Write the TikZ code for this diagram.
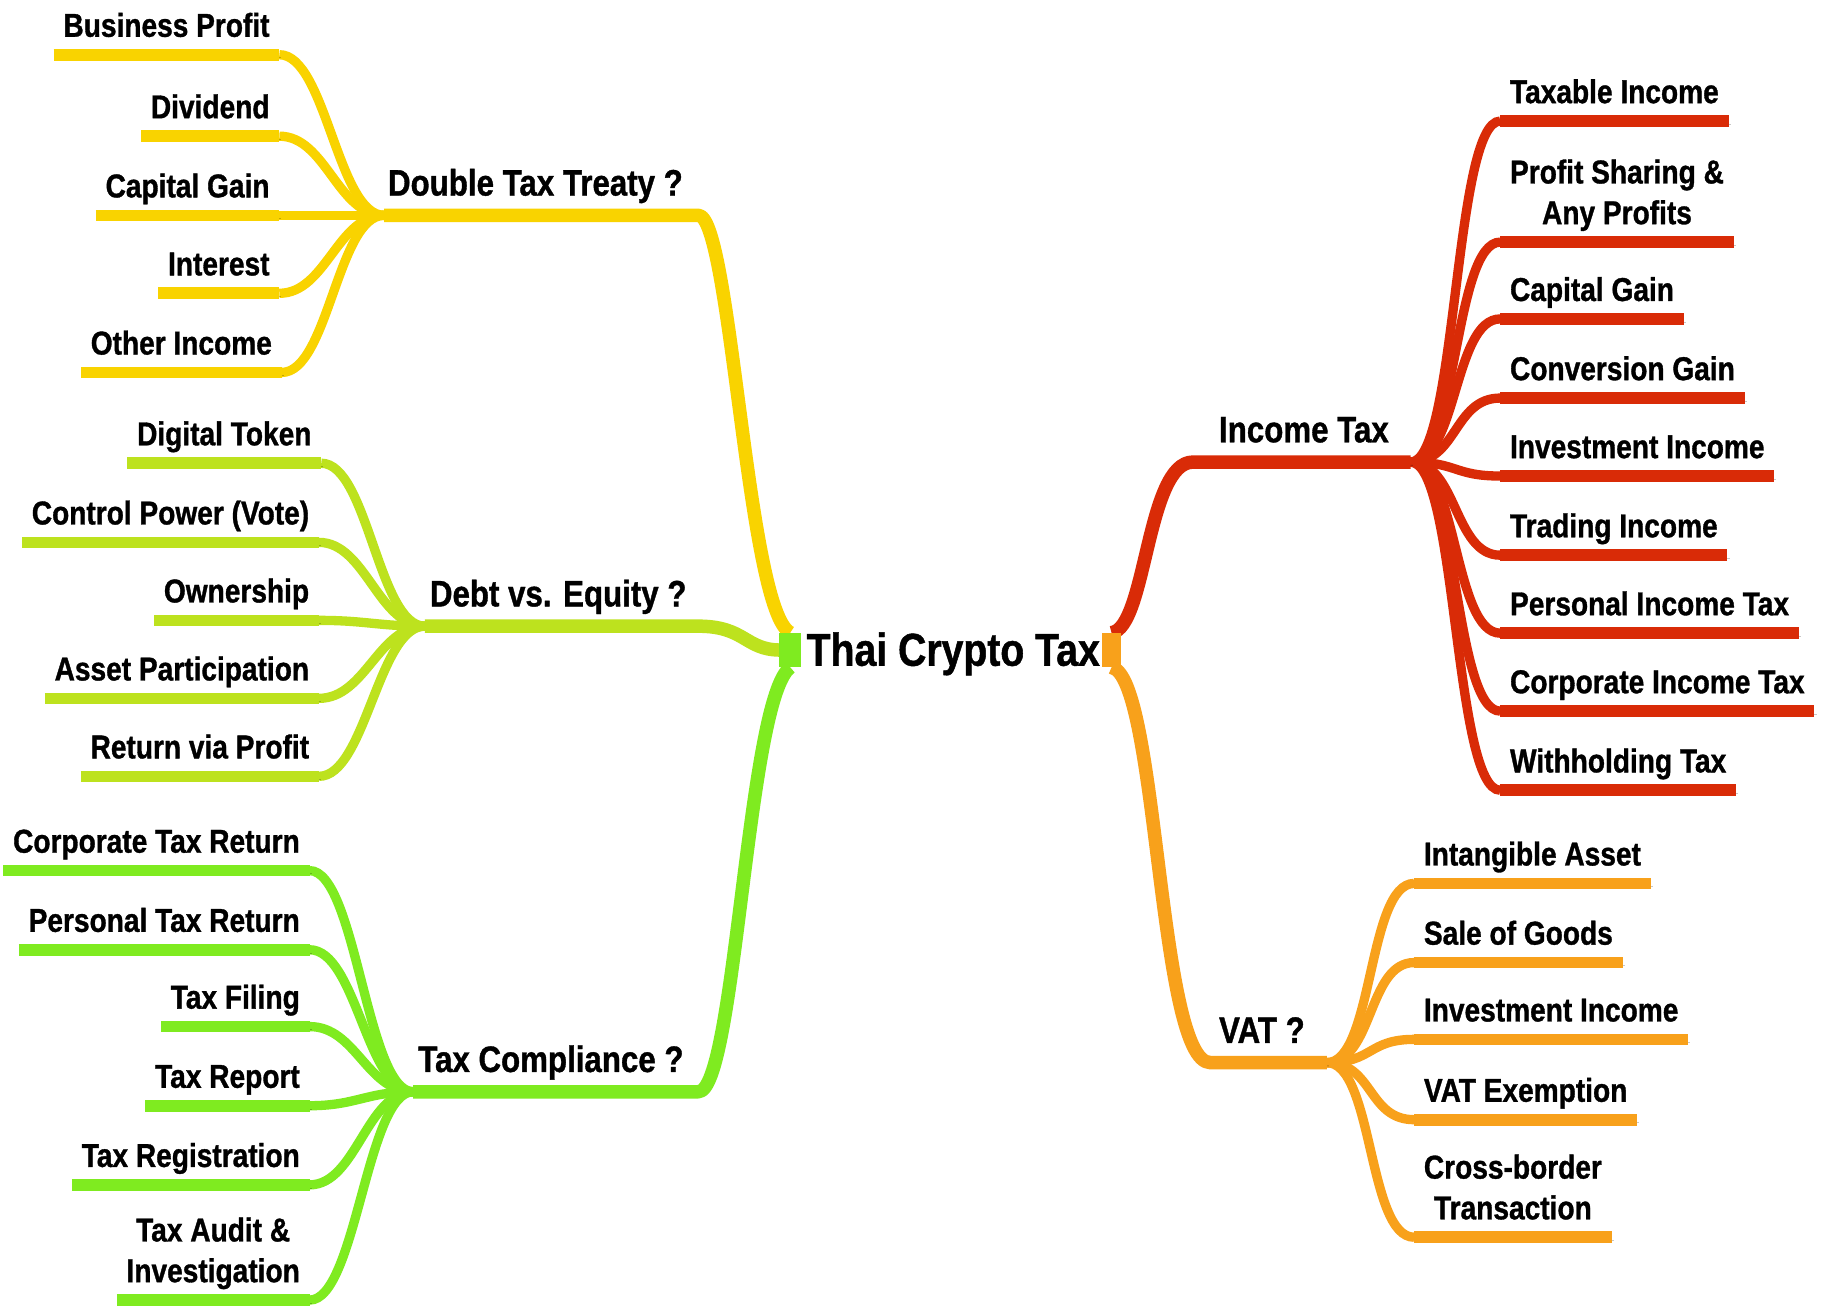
\documentclass[tikz,border=0pt]{standalone}
\usepackage{fontspec}
\newfontfamily\mmfont{Liberation Sans}[FakeStretch=0.85,FakeBold=1]
\usetikzlibrary{calc}
\definecolor{cYel}{HTML}{F9D300}
\definecolor{cLim}{HTML}{BDE21E}
\definecolor{cGrn}{HTML}{7FEB20}
\definecolor{cRed}{HTML}{D92B07}
\definecolor{cOra}{HTML}{F8A11B}
\newcommand\leaffont{\mmfont\bfseries\fontsize{14.2}{17.5}\selectfont}
\newcommand\branchfont{\mmfont\bfseries\fontsize{15.8}{19}\selectfont}
\newcommand\titlefont{\mmfont\bfseries\fontsize{19.8}{24}\selectfont}
\tikzset{
  shd/.style={preaction={draw=black,draw opacity=0.22,transform canvas={xshift=0.9pt,yshift=-1.4pt}}},
  leafline/.style={line width=5pt, draw=#1, shd},
  leafcurve/.style={line width=4pt, draw=#1, shd},
  trunk/.style={line width=5.8pt, draw=#1, shd, line join=round},
  lfL/.style={font=\leaffont, anchor=south east, inner xsep=4pt, inner ysep=0pt, text depth=0pt, align=center},
  lfR/.style={font=\leaffont, anchor=south west, inner xsep=4pt, inner ysep=0pt, text depth=0pt, align=center},
  brn/.style={font=\branchfont, anchor=base west, inner sep=0pt},
}
\newcommand\mmL[6]{%
  \node[lfL] (#1) at (#3,#4-15) {#2};
  \draw[leafcurve=#6] ([yshift=-7.5pt]#1.south east) .. controls +(40,0) and +(-40,0) .. (#5);
  \draw[leafline=#6] ([yshift=-7.5pt]#1.south west) -- ([yshift=-7.5pt]#1.south east);
}
\newcommand\mmR[6]{%
  \node[lfR] (#1) at (#3,#4-15) {#2};
  \draw[leafcurve=#6] (#5) .. controls +(40,0) and +(-40,0) .. ([yshift=-7.5pt]#1.south west);
  \draw[leafline=#6] ([yshift=-7.5pt]#1.south west) -- ([yshift=-7.5pt]#1.south east);
}
\begin{document}
\begin{tikzpicture}[x=0.5pt,y=-0.5pt]
\fill[white] (0,0) rectangle (1568,1123);
\useasboundingbox (0,0) rectangle (1568,1123);
% hubs and corners
\coordinate (hY) at (330,185);  \coordinate (cY) at (600,185);
\coordinate (hL) at (365,538);  \coordinate (cL) at (600,538);
\coordinate (hG) at (355,938);  \coordinate (cG) at (600,938);
\coordinate (hR) at (1212,397); \coordinate (cR) at (1025,397);
\coordinate (hO) at (1140,913); \coordinate (cO) at (1040,913);
% centre blocks
\node[fill=cGrn, minimum width=9pt, minimum height=14.5pt, inner sep=0pt] (bL) at (679,558.5) {};
\node[fill=cOra, minimum width=7.5pt, minimum height=14.5pt, inner sep=0pt] (bR) at (955,558.5) {};
% Double Tax Treaty leaves
\mmL{bp}{Business Profit}{240}{47}{hY}{cYel}
\mmL{dv}{Dividend}{240}{117}{hY}{cYel}
\mmL{cgL}{Capital Gain}{240}{185}{hY}{cYel}
\mmL{in}{Interest}{240}{252}{hY}{cYel}
\mmL{oi}{Other Income}{242}{320}{hY}{cYel}
% Debt vs Equity leaves
\mmL{dt}{Digital Token}{276}{398}{hL}{cLim}
\mmL{cp}{Control Power (Vote)}{274}{466}{hL}{cLim}
\mmL{ow}{Ownership}{274}{533}{hL}{cLim}
\mmL{ap}{Asset Participation}{274}{600}{hL}{cLim}
\mmL{rp}{Return via Profit}{274}{667}{hL}{cLim}
% Tax Compliance leaves
\mmL{ctr}{Corporate Tax Return}{266}{748}{hG}{cGrn}
\mmL{ptr}{Personal Tax Return}{266}{816}{hG}{cGrn}
\mmL{tf}{Tax Filing}{266}{882}{hG}{cGrn}
\mmL{trp}{Tax Report}{266}{950}{hG}{cGrn}
\mmL{treg}{Tax Registration}{266}{1018}{hG}{cGrn}
\mmL{ta}{Tax Audit \&\\Investigation}{266}{1117}{hG}{cGrn}
% Income Tax leaves
\mmR{ti}{Taxable Income}{1289}{104}{hR}{cRed}
\mmR{ps}{Profit Sharing \&\\Any Profits}{1289}{208}{hR}{cRed}
\mmR{cgR}{Capital Gain}{1289}{274}{hR}{cRed}
\mmR{cvg}{Conversion Gain}{1289}{342}{hR}{cRed}
\mmR{ii}{Investment Income}{1289}{409}{hR}{cRed}
\mmR{tri}{Trading Income}{1289}{477}{hR}{cRed}
\mmR{pit}{Personal Income Tax}{1289}{544}{hR}{cRed}
\mmR{cit}{Corporate Income Tax}{1289}{611}{hR}{cRed}
\mmR{wt}{Withholding Tax}{1289}{679}{hR}{cRed}
% VAT leaves
\mmR{ia}{Intangible Asset}{1215}{759}{hO}{cOra}
\mmR{sg}{Sale of Goods}{1215}{827}{hO}{cOra}
\mmR{ivi}{Investment Income}{1215}{893}{hO}{cOra}
\mmR{ve}{VAT Exemption}{1215}{962}{hO}{cOra}
\mmR{cb}{Cross-border\\Transaction}{1215}{1063}{hO}{cOra}
% trunks
\draw[trunk=cYel] (hY) -- (cY) .. controls (628,185) and (642,525) .. (bL.north);
\draw[trunk=cLim] (hL) -- (cL) .. controls (640,538) and (640,558) .. (bL.west);
\draw[trunk=cGrn] (hG) -- (cG) .. controls (632,938) and (642,600) .. (bL.south);
\draw[trunk=cRed] (bR.north) .. controls (985,540) and (985,397) .. (cR) -- (hR);
\draw[trunk=cOra] (bR.south) .. controls (995,580) and (995,913) .. (cO) -- (hO);
% redraw blocks on top
\fill[cGrn] (bL.north west) rectangle (bL.south east);
\fill[cOra] (bR.north west) rectangle (bR.south east);
% branch labels
\node[brn] (dtt) at (333,168) {Double Tax Treaty ?};
\node[brn] (dve) at (369,521) {Debt vs. Equity ?};
\node[brn] (tcp) at (359,921) {Tax Compliance ?};
\node[brn] (itx) at (1047,380) {Income Tax};
\node[brn] (vat) at (1047,896) {VAT ?};
% title
\node[font=\titlefont, anchor=base, inner sep=0pt] (title) at (819,572) {Thai Crypto Tax};
\end{tikzpicture}
\end{document}
